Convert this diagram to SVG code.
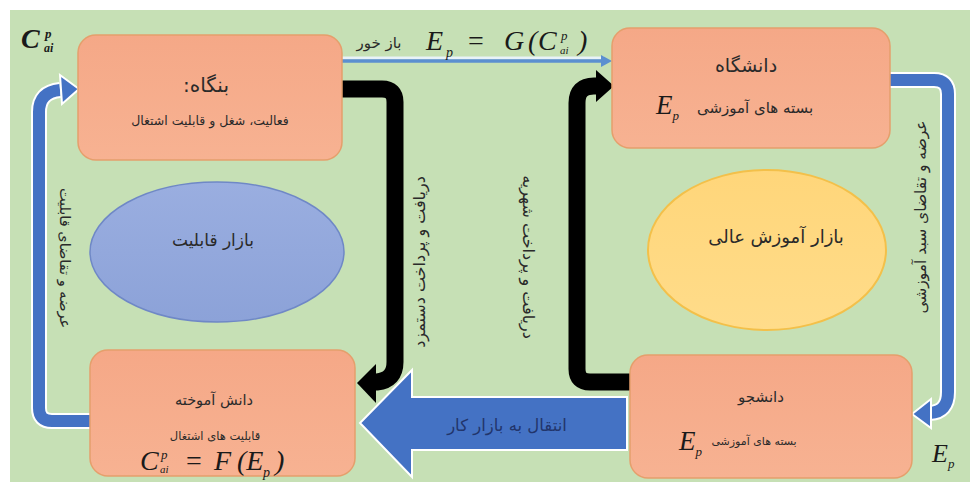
<svg xmlns="http://www.w3.org/2000/svg" width="970" height="482" viewBox="0 0 970 482">
<defs>
<style>
.fa{font-family:"DejaVu Sans","Noto Sans",sans-serif;fill:#2a2a2a;text-anchor:middle;direction:rtl}
.m{font-family:"Liberation Serif","DejaVu Serif",serif;font-style:italic;fill:#1a1a1a}
.n{font-style:normal}
.box{stroke:#e59f6c;stroke-width:1.5}
.bl{fill:none;stroke:#4472c4;stroke-width:12}
.blo{fill:none;stroke:#ffffff;stroke-width:16}
.bk{fill:none;stroke:#000;stroke-width:17}
</style>
<linearGradient id="gBox" x1="0" y1="0" x2="0" y2="1">
<stop offset="0" stop-color="#f5a887"/>
<stop offset="1" stop-color="#f7b292"/>
</linearGradient>
<linearGradient id="gBlue" x1="0" y1="0" x2="0" y2="1">
<stop offset="0" stop-color="#9aaee0"/>
<stop offset="1" stop-color="#8ca2d8"/>
</linearGradient>
<linearGradient id="gYel" x1="0" y1="0" x2="0" y2="1">
<stop offset="0" stop-color="#ffd67a"/>
<stop offset="1" stop-color="#ffdc8a"/>
</linearGradient>
</defs>
<rect x="0" y="0" width="970" height="482" fill="#ffffff"/>
<rect x="10" y="10" width="960" height="472" fill="#c6e0b5"/>

<g id="connectors">
  <!-- top thin arrow -->
  <line x1="342" y1="58" x2="604" y2="58" stroke="#e8f2f8" stroke-width="3"/>
  <line x1="342" y1="61" x2="602" y2="61" stroke="#5b8fd0" stroke-width="3.5"/>
  <polygon points="612,61 601,55 601,67" fill="#5b8fd0"/>
  <!-- left black bent arrow -->
  <path class="bk" d="M342 89 H382 Q395 89 395 102 V362 Q395 380 377 382 H372"/>
  <polygon points="357,383 376,364 376,403" fill="#000"/>
  <!-- right black bent arrow -->
  <path class="bk" d="M630 382 H590 Q577 382 577 369 V103 Q577 86 594 86 H598"/>
  <polygon points="614,86 596,70 596,102" fill="#000"/>
  <!-- left blue bent arrow -->
  <path class="blo" d="M92 421 H52 Q39 421 39 408 V112 Q39 92 60 90"/>
  <path class="bl" d="M92 421 H52 Q39 421 39 408 V112 Q39 92 60 90"/>
  <polygon points="79,89 60,75 62,104" fill="#4472c4" stroke="#ffffff" stroke-width="2"/>
  <!-- right blue bent arrow -->
  <path class="blo" d="M890 80 H934 Q948 80 948 94 V392 Q948 412 930 413"/>
  <path class="bl" d="M890 80 H934 Q948 80 948 94 V392 Q948 412 930 413"/>
  <polygon points="912,414 931,399 931,428" fill="#4472c4" stroke="#ffffff" stroke-width="2"/>
  <!-- big block arrow -->
  <polygon points="627,397 412,397 412,370 360,423 412,477 412,450 627,450" fill="#4472c4" stroke="#ffffff" stroke-width="2"/>
  <text class="fa" x="507" y="431" font-size="16.5" style="fill:#22356b">انتقال به بازار کار</text>
  <!-- labels -->
  <text class="fa" x="379" y="48" font-size="15">باز خور</text>
  <text class="m" font-size="28"><tspan x="426" y="50">E</tspan><tspan font-size="14" x="446" y="57">p</tspan><tspan class="n" x="468" y="50">=</tspan><tspan x="504" y="50">G</tspan><tspan x="528" y="50">(</tspan><tspan x="538" y="50">C</tspan><tspan font-size="13" x="561" y="40">p</tspan><tspan font-size="11" x="560" y="54">ai</tspan><tspan x="578" y="50">)</tspan></text>
  <text class="fa" transform="translate(60,258) rotate(90)" font-size="14.5">عرضه و تقاضای قابلیت</text>
  <text class="fa" transform="translate(425,262) rotate(-90)" font-size="16">دریافت و پرداخت دستمزد</text>
  <text class="fa" transform="translate(523,257) rotate(90)" font-size="16">دریافت و پرداخت شهریه</text>
  <text class="fa" transform="translate(926,217) rotate(-90)" font-size="15.5">عرضه و تقاضای سبد آموزشی</text>
  <text class="m" font-size="28" font-weight="bold"><tspan x="21" y="48">C</tspan><tspan font-size="13" x="45" y="38">p</tspan><tspan font-size="12" x="44" y="52">ai</tspan></text>
  <text class="m" x="932" y="462" font-size="26">E<tspan font-size="13" dy="6">p</tspan></text>
</g>

<g id="node-firm">
  <rect class="box" x="78" y="35" width="264" height="125" rx="18" fill="url(#gBox)"/>
  <text class="fa" x="206" y="92" font-size="20">بنگاه:</text>
  <text class="fa" x="210" y="125" font-size="12.5">فعالیت، شغل و قابلیت اشتغال</text>
</g>

<g id="node-university">
  <rect class="box" x="612" y="28" width="278" height="120" rx="18" fill="url(#gBox)"/>
  <text class="fa" x="746" y="72" font-size="19">دانشگاه</text>
  <text class="fa" x="755" y="113" font-size="15">بسته های آموزشی</text>
  <text class="m" x="656" y="114" font-size="27">E<tspan font-size="13" dy="6">p</tspan></text>
</g>

<g id="node-capability-market">
  <ellipse cx="217" cy="252" rx="127" ry="70" fill="url(#gBlue)" stroke="#6f88c6" stroke-width="1.5"/>
  <text class="fa" x="213" y="246" font-size="17">بازار قابلیت</text>
</g>

<g id="node-higher-ed-market">
  <ellipse cx="767" cy="250" rx="119" ry="80" fill="url(#gYel)" stroke="#f3c04a" stroke-width="2"/>
  <text class="fa" x="776" y="243" font-size="18">بازار آموزش عالی</text>
</g>

<g id="node-graduate">
  <rect class="box" x="90" y="350" width="265" height="126" rx="18" fill="url(#gBox)"/>
  <text class="fa" x="214" y="405" font-size="14.5">دانش آموخته</text>
  <text class="fa" x="215" y="440" font-size="11.5">قابلیت های اشتغال</text>
  <text class="m" font-size="28"><tspan x="140" y="470">C</tspan><tspan font-size="13" x="161" y="459">p</tspan><tspan font-size="11" x="160" y="473">ai</tspan><tspan class="n" x="186" y="470">=</tspan><tspan x="214" y="470">F</tspan><tspan x="237" y="470">(E</tspan><tspan font-size="14" x="263" y="477">p</tspan><tspan x="275" y="470">)</tspan></text>
</g>

<g id="node-student">
  <rect class="box" x="630" y="355" width="282" height="123" rx="18" fill="url(#gBox)"/>
  <text class="fa" x="761" y="402" font-size="15">دانشجو</text>
  <text class="fa" x="754" y="445" font-size="11">بسته های آموزشی</text>
  <text class="m" x="679" y="450" font-size="27">E<tspan font-size="13" dy="6">p</tspan></text>
</g>
</svg>
